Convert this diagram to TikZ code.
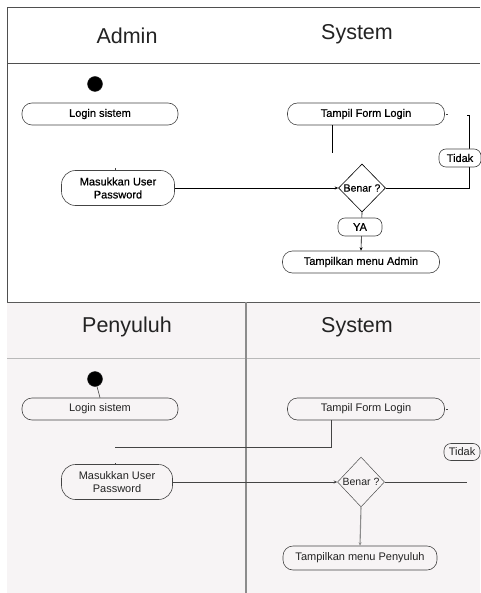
\documentclass[tikz,border=0pt]{standalone}
\usepackage{fontspec}
\setmainfont{Liberation Sans}
\newfontfamily\heavyfont{Liberation Sans}[FakeBold=0.6]
\usetikzlibrary{shapes.geometric,arrows.meta}
\definecolor{panelbg}{RGB}{247,244,245}
\definecolor{ink}{RGB}{35,35,35}
\tikzset{
  act/.style={draw=ink!85, line width=0.6pt, rounded corners=10pt, minimum height=22pt, inner sep=1pt, font=\fontsize{11}{13}\selectfont, text=ink, fill=white},
  acttop/.style={act, font=\heavyfont\fontsize{11}{13}\selectfont, text=black},
  actb/.style={act, fill=panelbg},
  tall/.style={minimum height=35pt, rounded corners=14pt, align=center},
  lbl/.style={draw=ink!85, line width=0.6pt, rounded corners=7pt, minimum height=18pt, inner sep=1pt, font=\fontsize{11}{13}\selectfont, text=ink, fill=white},
  lbltop/.style={lbl, font=\heavyfont\fontsize{11}{13}\selectfont, text=black},
  dec/.style={shape=diamond, draw=ink!80, line width=0.5pt, inner sep=0pt, minimum width=47pt, minimum height=48pt},
  dtext/.style={font=\fontsize{10.5}{12}\selectfont, text=ink, inner sep=0pt},
  lane/.style={font=\fontsize{21.5}{24}\selectfont, text=ink},
  conn/.style={draw=ink!85, line width=0.6pt},
  arr/.style={conn, -{Stealth[length=3.5pt,width=3pt]}},
  startdot/.style={circle, fill=black, draw=ink, minimum size=15pt, inner sep=0pt},
}
\begin{document}
\begin{tikzpicture}[x=1pt,y=-1pt]
\useasboundingbox (0,0) rectangle (480,593);
% ---------- frames ----------
\fill[white] (0,0) rectangle (480,302);
\fill[panelbg] (7,302) rectangle (480,593);
\draw[ink!80, line width=0.8pt] (480,7) -- (7,7) -- (7,302);
\draw[ink!80, line width=0.8pt] (7,63) -- (480,63);
\draw[ink!75, line width=0.9pt] (7,302) -- (480,302);
\draw[gray!55, line width=0.6pt] (7,358) -- (480,358);
\draw[gray!90, line width=1.1pt] (246,302) -- (246,593);
% ---------- top panel ----------
\node[lane] (hAdmin) at (127,36) {Admin};
\node[lane] (hSys1) at (357,34) {System};
\node[startdot] (dot1) at (95,84) {};
\node[acttop, minimum width=156pt] (login1) at (100,114) {Login sistem};
\node[acttop, minimum width=157pt] (tampil1) at (366,114) {Tampil Form Login};
\node[acttop, tall, minimum width=113pt] (masuk1) at (118,188) {Masukkan User\\Password};
\node[dec, draw=black, line width=0.6pt] (benar1) at (362,188) {};
\node[dtext, font=\heavyfont\fontsize{10.5}{12}\selectfont, text=black] (benar1t) at (benar1) {Benar ?};
\node[acttop, minimum width=157pt] (menu1) at (361,262) {Tampilkan menu Admin};
\coordinate (t1end) at (332,153);
\coordinate (r1a) at (469,188);
\coordinate (r1b) at (469,115);
\coordinate (tick1) at (115,168);
\draw[conn, draw=black] (tampil1.south -| t1end) -- (t1end);
\draw[arr, draw=black] (masuk1.east) -- (benar1.west);
\draw[conn, draw=black] (benar1.east) -- (r1a) -- (r1b) -- ++(-2,0);
\draw[arr, draw=black] (benar1.south) -- (menu1.north);
\draw[conn] (tampil1.east) ++(1,0) -- ++(2,0);
\draw[conn] (tick1) -- ++(0,2);
\node[lbltop, minimum width=42pt] (tidak1) at (460,158) {Tidak};
\node[lbltop, minimum width=44pt] (ya1) at (360,227) {YA};
% ---------- bottom panel ----------
\node[lane] (hPen) at (127,327) {Penyuluh};
\node[lane] (hSys2) at (357,327) {System};
\node[startdot] (dot2) at (95,379) {};
\node[actb, minimum width=156pt] (login2) at (100,409) {Login sistem};
\node[actb, minimum width=157pt] (tampil2) at (366,409) {Tampil Form Login};
\node[actb, tall, minimum width=111pt] (masuk2) at (117,482) {Masukkan User\\Password};
\node[dec, fill=panelbg, minimum height=50pt] (benar2) at (361,482) {};
\node[dtext] (benar2t) at (benar2) {Benar ?};
\node[actb, minimum width=154pt, minimum height=24pt] (menu2) at (360,558) {Tampilkan menu Penyuluh};
\node[lbl, fill=panelbg, minimum width=36pt, minimum height=17pt] (tidak2) at (462,452) {Tidak};
\coordinate (t2a) at (331,447);
\coordinate (t2b) at (115,447);
\coordinate (r2) at (467,482);
\coordinate (tick2) at (115,463);
\draw[conn] (dot2) -- (login2.north);
\draw[conn] (tampil2.south -| t2a) -- (t2a) -- (t2b);
\draw[arr] (masuk2.east) -- (benar2.west);
\draw[conn] (benar2.east) -- (r2);
\draw[arr, draw=gray!90, line width=1.1pt] (benar2.south) -- (menu2.north);
\draw[conn] (tampil2.east) ++(1,0) -- ++(2,0);
\draw[conn] (tick2) -- ++(0,2);
\end{tikzpicture}
\end{document}
